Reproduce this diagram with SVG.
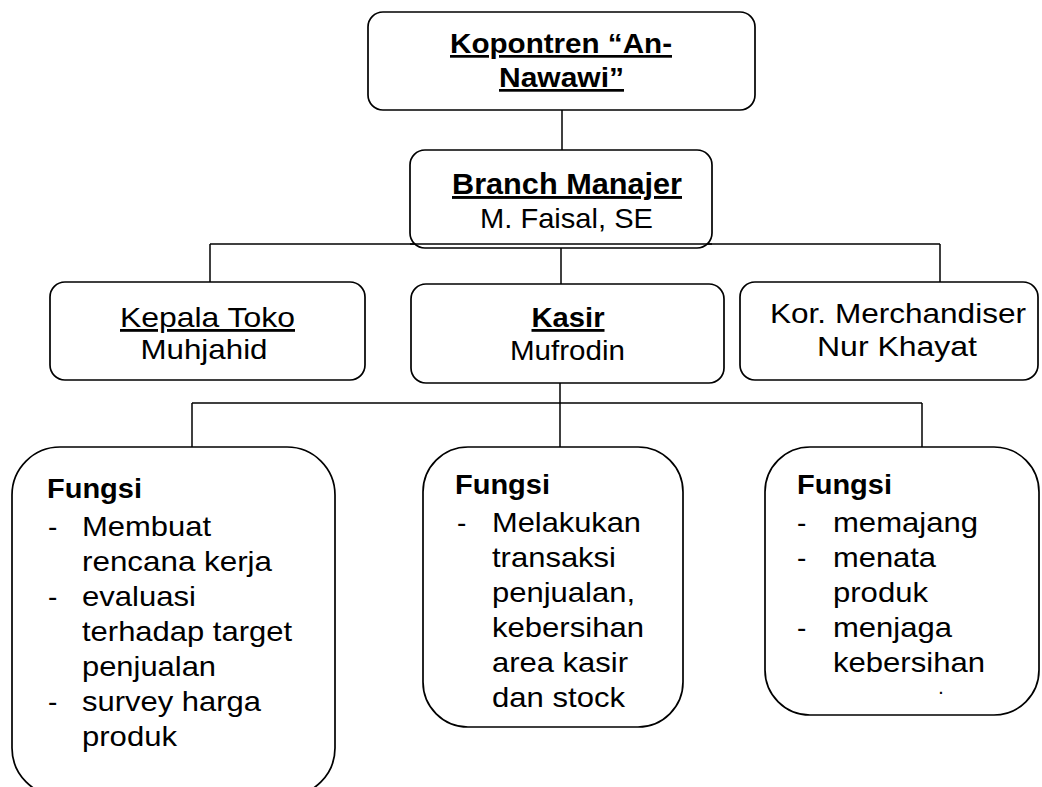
<svg xmlns="http://www.w3.org/2000/svg" width="1042" height="787" viewBox="0 0 1042 787">
<style>
.box{fill:#fff;stroke:#000;stroke-width:1.7}
.con line{stroke:#000;stroke-width:1.5}
text{font-family:"Liberation Sans",Arial,sans-serif;fill:#000}
.b{font-weight:bold}
.u{text-decoration:underline}
.t{font-size:28px}
.h{font-size:27px}
.m{text-anchor:middle}
</style>
<rect width="1042" height="787" fill="#fff"/>
<g class="con" id="connectors">
<line x1="562" y1="110" x2="562" y2="150"/>
<line x1="210" y1="244" x2="940" y2="244"/>
<line x1="210" y1="244" x2="210" y2="282"/>
<line x1="940" y1="244" x2="940" y2="282"/>
<line x1="561" y1="248" x2="561" y2="284"/>
<line x1="560" y1="383" x2="560" y2="447"/>
<line x1="192" y1="403" x2="922" y2="403"/>
<line x1="192" y1="403" x2="192" y2="447"/>
<line x1="922" y1="403" x2="922" y2="447"/>
</g>
<g id="kopontren">
<rect class="box" x="368" y="12" width="387" height="98" rx="15"/>
<text class="h b u m" x="561" y="53" textLength="222" lengthAdjust="spacingAndGlyphs">Kopontren “An-</text>
<text class="h b u m" x="561.5" y="87" textLength="125" lengthAdjust="spacingAndGlyphs">Nawawi”</text>
</g>
<g id="branch">
<rect class="box" x="410" y="150" width="302" height="98" rx="15"/>
<line x1="410" y1="244" x2="712" y2="244" stroke="#000" stroke-width="1.5"/>
<text class="b u m" x="567" y="194" font-size="29" textLength="230" lengthAdjust="spacingAndGlyphs">Branch Manajer</text>
<text class="t m" x="566.5" y="228" textLength="173" lengthAdjust="spacingAndGlyphs">M. Faisal, SE</text>
</g>
<g id="kepala-toko">
<rect class="box" x="50" y="282" width="315" height="98" rx="15"/>
<text class="t u m" x="207.5" y="327" textLength="175" lengthAdjust="spacingAndGlyphs">Kepala Toko</text>
<text class="t m" x="204" y="359" textLength="127" lengthAdjust="spacingAndGlyphs">Muhjahid</text>
</g>
<g id="kasir">
<rect class="box" x="411" y="284" width="313" height="99" rx="15"/>
<text class="t b u m" x="568" y="327" textLength="73" lengthAdjust="spacingAndGlyphs">Kasir</text>
<text class="t m" x="567.5" y="360" textLength="115" lengthAdjust="spacingAndGlyphs">Mufrodin</text>
</g>
<g id="merchandiser">
<rect class="box" x="740" y="282" width="298" height="98" rx="15"/>
<text class="t m" x="898" y="323" textLength="256" lengthAdjust="spacingAndGlyphs">Kor. Merchandiser</text>
<text class="t m" x="897" y="356" textLength="160" lengthAdjust="spacingAndGlyphs">Nur Khayat</text>
</g>
<g id="fungsi-kepala-toko">
<rect class="box" x="12" y="447" width="323" height="349" rx="48"/>
<text class="t b" x="47" y="498" textLength="95" lengthAdjust="spacingAndGlyphs">Fungsi</text>
<text class="t" x="48" y="536">-</text>
<text class="t" x="82" y="536" textLength="129" lengthAdjust="spacingAndGlyphs">Membuat</text>
<text class="t" x="82" y="571" textLength="190" lengthAdjust="spacingAndGlyphs">rencana kerja</text>
<text class="t" x="48" y="606">-</text>
<text class="t" x="82" y="606" textLength="114" lengthAdjust="spacingAndGlyphs">evaluasi</text>
<text class="t" x="82" y="641" textLength="210" lengthAdjust="spacingAndGlyphs">terhadap target</text>
<text class="t" x="82" y="676" textLength="134" lengthAdjust="spacingAndGlyphs">penjualan</text>
<text class="t" x="48" y="711">-</text>
<text class="t" x="82" y="711" textLength="179" lengthAdjust="spacingAndGlyphs">survey harga</text>
<text class="t" x="82" y="746" textLength="95" lengthAdjust="spacingAndGlyphs">produk</text>
</g>
<g id="fungsi-kasir">
<rect class="box" x="423" y="447" width="260" height="280" rx="45"/>
<text class="t b" x="455" y="494" textLength="95" lengthAdjust="spacingAndGlyphs">Fungsi</text>
<text class="t" x="457" y="532">-</text>
<text class="t" x="492" y="532" textLength="149" lengthAdjust="spacingAndGlyphs">Melakukan</text>
<text class="t" x="492" y="567" textLength="124" lengthAdjust="spacingAndGlyphs">transaksi</text>
<text class="t" x="492" y="602" textLength="143" lengthAdjust="spacingAndGlyphs">penjualan,</text>
<text class="t" x="492" y="637" textLength="152" lengthAdjust="spacingAndGlyphs">kebersihan</text>
<text class="t" x="492" y="672" textLength="136" lengthAdjust="spacingAndGlyphs">area kasir</text>
<text class="t" x="492" y="707" textLength="133" lengthAdjust="spacingAndGlyphs">dan stock</text>
</g>
<g id="fungsi-merchandiser">
<rect class="box" x="765" y="447" width="274" height="268" rx="45"/>
<text class="t b" x="797" y="494" textLength="95" lengthAdjust="spacingAndGlyphs">Fungsi</text>
<text class="t" x="797" y="532">-</text>
<text class="t" x="833" y="532" textLength="145" lengthAdjust="spacingAndGlyphs">memajang</text>
<text class="t" x="797" y="567">-</text>
<text class="t" x="833" y="567" textLength="103" lengthAdjust="spacingAndGlyphs">menata</text>
<text class="t" x="833" y="602" textLength="95" lengthAdjust="spacingAndGlyphs">produk</text>
<text class="t" x="797" y="637">-</text>
<text class="t" x="833" y="637" textLength="119" lengthAdjust="spacingAndGlyphs">menjaga</text>
<text class="t" x="833" y="672" textLength="152" lengthAdjust="spacingAndGlyphs">kebersihan</text>
<text class="b" x="939" y="694" font-size="14">.</text>
</g>
</svg>
